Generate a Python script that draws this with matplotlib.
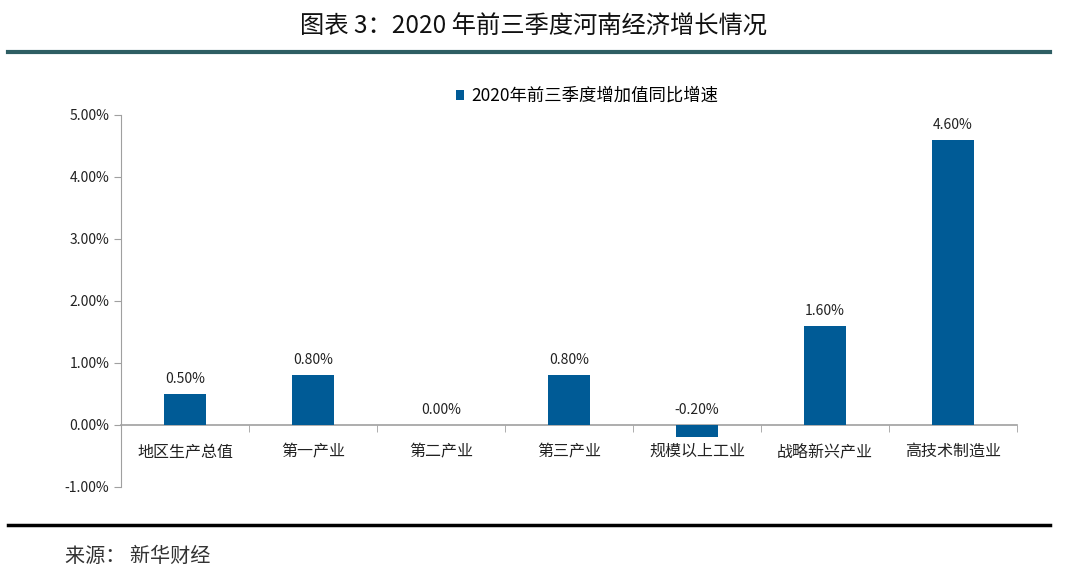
import numpy as np
import matplotlib.pyplot as plt
from matplotlib.lines import Line2D

plt.rcParams['font.family'] = ['Noto Sans CJK SC', 'DejaVu Sans']

categories = ["地区生产总值", "第一产业", "第二产业", "第三产业", "规模以上工业", "战略新兴产业", "高技术制造业"]
values = [0.50, 0.80, 0.00, 0.80, -0.20, 1.60, 4.60]
yticks = [-1, 0, 1, 2, 3, 4, 5]
series_name = "2020年前三季度增加值同比增速"
title = "图表 3：2020 年前三季度河南经济增长情况"
source = "来源： 新华财经"

bar_color = "#005b96"
grey = "#a0a0a0"

fig = plt.figure(figsize=(10.67, 5.84), dpi=100)

# header / footer
fig.text(0.5, 1 - 27 / 584, title, ha="center", va="center", fontsize=17.5, color="#111111")
fig.add_artist(Line2D([8 / 1067, 1050 / 1067], [1 - 52 / 584] * 2, color="#2e5e63", lw=3))
fig.add_artist(Line2D([8 / 1067, 1050 / 1067], [1 - 525 / 584] * 2, color="black", lw=2.5))
fig.text(65 / 1067, 1 - 556 / 584, source, ha="left", va="center", fontsize=14.5, color="#333333",
         fontweight="light")

ax = fig.add_axes([121 / 1067, 1 - 487 / 584, (1017 - 121) / 1067, (487 - 115) / 584])
x = np.arange(len(categories))
ax.bar(x, values, width=0.33, color=bar_color, label=series_name, zorder=3)

for xi, v in zip(x, values):
    ax.text(xi, max(v, 0) + 0.13, f"{v:.2f}%", ha="center", va="bottom", fontsize=10, color="#222222")

ax.set_xlim(-0.5, len(categories) - 0.5)
ax.set_ylim(-1, 5)
ax.set_yticks(yticks)
ax.set_yticklabels([f"{t:.2f}%" for t in yticks], fontsize=10, color="#222222")

ax.spines["top"].set_visible(False)
ax.spines["right"].set_visible(False)
ax.spines["left"].set_color(grey)
ax.spines["bottom"].set_color(grey)
ax.spines["bottom"].set_position(("data", 0))
ax.spines["bottom"].set_linewidth(1.2)
ax.tick_params(axis="y", colors=grey, labelcolor="#222222", length=5, direction="out")

ax.set_xticks(x)
ax.set_xticklabels(categories, fontsize=11.5, color="#222222")
ax.set_xticks(np.arange(len(categories) + 1) - 0.5, minor=True)
ax.tick_params(axis="x", which="major", length=0, pad=13)
ax.tick_params(axis="x", which="minor", length=5, color=grey, direction="out")

ax.legend(loc="lower center", bbox_to_anchor=(0.52, 0.985), frameon=False, fontsize=12.5,
          handlelength=0.5, handleheight=0.5, handletextpad=0.4)

plt.savefig("out.png", dpi=100)
